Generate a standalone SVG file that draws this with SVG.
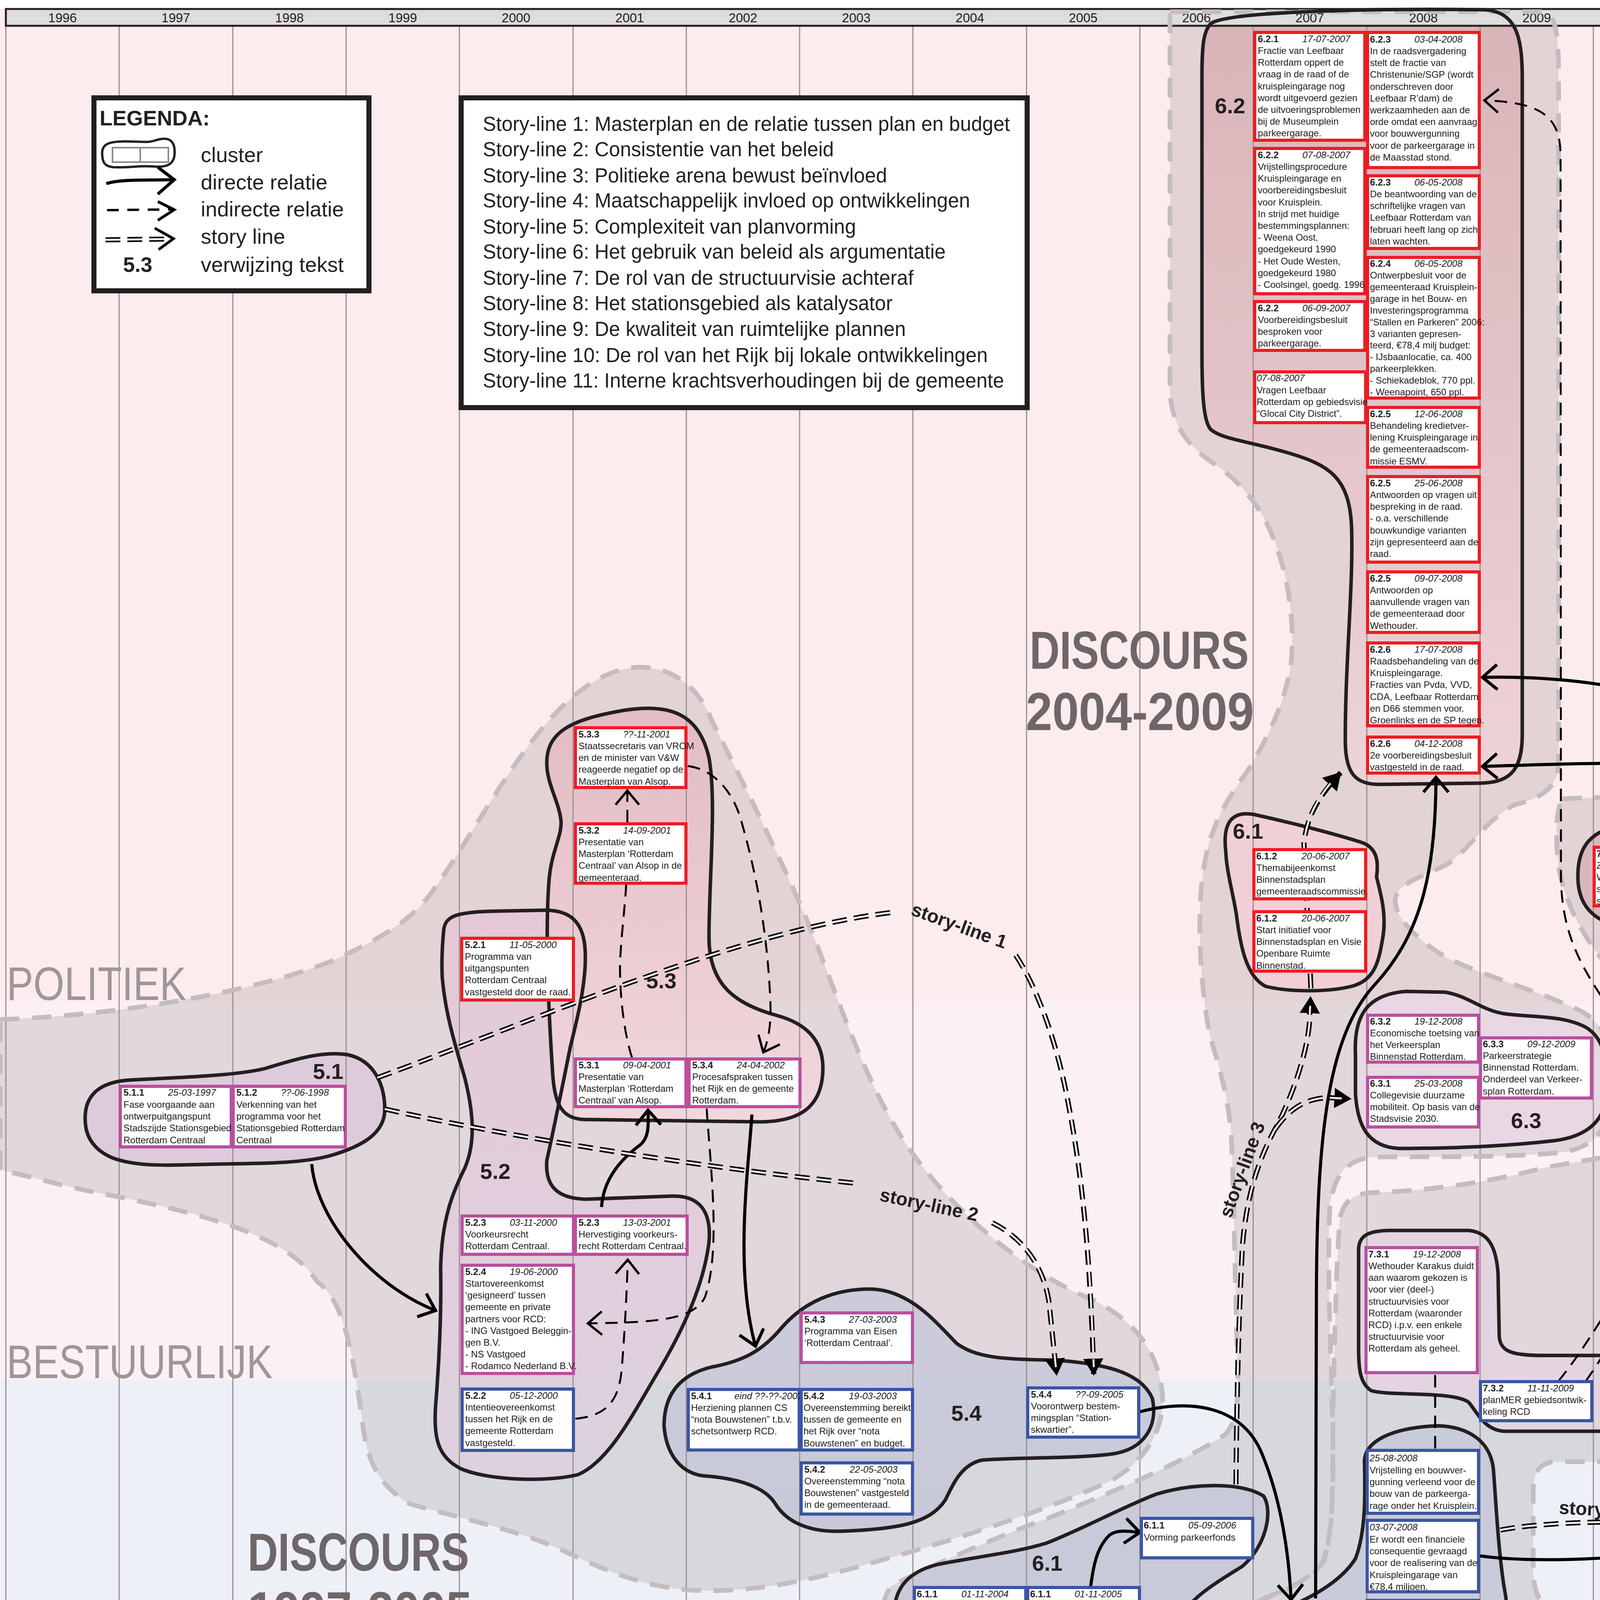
<svg xmlns="http://www.w3.org/2000/svg" xmlns:xlink="http://www.w3.org/1999/xlink" width="5229" height="5234" viewBox="0 0 5229 5234">
<style>
.t{font-family:"Liberation Sans",Arial,sans-serif;font-size:24px;fill:#231f20}
.id{font-weight:bold}
.dt{font-style:italic}
.nd rect{fill:#fff;stroke-width:8}
.r rect{stroke:#ed1c24}
.m rect{stroke:#b94f9e}
.b rect{stroke:#3a55a4}
.c rect{stroke:#6ccbe0}
.ol{fill:none;stroke:#231f20;stroke-width:9}
.dc{fill:#7d7278;fill-opacity:.2;stroke:none}
.dco{fill:none;stroke:#c4bdc0;stroke-width:12;stroke-dasharray:50 32}
.d{fill:none;stroke:#000;stroke-width:8}
.i{fill:none;stroke:#000;stroke-width:5;stroke-dasharray:32 20}
.s1{fill:none;stroke:#000;stroke-width:13;stroke-dasharray:38 18}
.s2{fill:none;stroke:#f4eef2;stroke-width:5;stroke-dasharray:38 18}
.cn{font-family:"Liberation Sans",Arial,sans-serif;font-weight:bold;font-size:56px;fill:#231f20}
.sl{font-family:"Liberation Sans",Arial,sans-serif;font-weight:bold;font-size:48px;fill:#231f20}
.dl{font-family:"Liberation Sans",Arial,sans-serif;font-weight:bold;font-size:138px;fill:#6e6668}
.bl{font-family:"Liberation Sans",Arial,sans-serif;font-size:120px;fill:#9e9698}
.yr{font-family:"Liberation Sans",Arial,sans-serif;font-size:33px;fill:#231f20;text-anchor:middle}
.lg{font-family:"Liberation Sans",Arial,sans-serif;font-size:54px;fill:#231f20}
.st{font-family:"Liberation Sans",Arial,sans-serif;font-size:51px;fill:#231f20}
.col{stroke:#9b8f93;stroke-width:3}
</style>
<defs>
<marker id="ch" viewBox="0 0 60 80" refX="48" refY="40" markerWidth="60" markerHeight="80" markerUnits="userSpaceOnUse" orient="auto"><path d="M10,8 L48,40 L10,72" fill="none" stroke="#000" stroke-width="8"/></marker>
<marker id="chi" viewBox="0 0 60 80" refX="48" refY="40" markerWidth="60" markerHeight="80" markerUnits="userSpaceOnUse" orient="auto"><path d="M12,10 L48,40 L12,70" fill="none" stroke="#000" stroke-width="6"/></marker>
<marker id="tri" viewBox="0 0 44 56" refX="42" refY="28" markerWidth="44" markerHeight="56" markerUnits="userSpaceOnUse" orient="auto"><path d="M0,2 L44,28 L0,54 Z" fill="#000"/></marker>
<linearGradient id="gR" x1="0" y1="0" x2="0" y2="1"><stop offset="0" stop-color="#d6adb2"/><stop offset="1" stop-color="#f0d3d7"/></linearGradient>
<linearGradient id="g53" x1="0" y1="0" x2="0" y2="1"><stop offset="0" stop-color="#e2b8bf"/><stop offset="1" stop-color="#f4d8de"/></linearGradient>
<linearGradient id="gL" x1="0" y1="0" x2="0" y2="1"><stop offset="0" stop-color="#e6c6d6"/><stop offset="1" stop-color="#ddd0e0"/></linearGradient>
<linearGradient id="gB" x1="0" y1="0" x2="0" y2="1"><stop offset="0" stop-color="#c9c9da"/><stop offset="1" stop-color="#c3c6d7"/></linearGradient>
<path id="c51" d="M219 2880 C210 2800 260 2770 330 2765 C450 2758 600 2755 680 2735 C760 2710 830 2690 890 2700 C960 2715 985 2780 985 2840 C985 2900 930 2935 840 2960 C760 2980 650 2978 560 2980 C450 2982 360 2990 290 2965 C240 2945 222 2910 219 2880 Z"/>
<path id="c52" d="M1136 2380 C1140 2345 1170 2336 1250 2333 L1400 2330 C1460 2332 1490 2360 1497 2420 C1505 2500 1480 2600 1460 2680 C1440 2780 1420 2880 1400 2970 C1395 3030 1420 3068 1500 3070 L1720 3062 C1790 3060 1822 3100 1815 3180 C1800 3300 1740 3420 1680 3520 C1620 3620 1560 3740 1480 3775 C1400 3795 1250 3790 1180 3760 C1120 3730 1110 3680 1115 3600 C1125 3480 1130 3350 1128 3250 C1130 3120 1160 3050 1190 2990 C1220 2920 1210 2840 1190 2760 C1170 2690 1140 2600 1132 2500 C1130 2450 1133 2410 1136 2380 Z"/>
<path id="c53" d="M1400 1960 C1395 1870 1470 1840 1600 1818 C1720 1800 1790 1830 1815 1940 C1835 2050 1815 2250 1815 2400 C1815 2520 1880 2570 1990 2600 C2080 2625 2115 2680 2105 2760 C2095 2840 2040 2870 1950 2872 L1500 2866 C1440 2866 1420 2830 1415 2750 C1405 2600 1395 2400 1405 2260 C1410 2180 1440 2140 1436 2100 C1430 2050 1402 2010 1400 1960 Z"/>
<path id="c54" d="M1700 3650 C1700 3570 1740 3520 1820 3500 C1900 3485 1950 3460 2000 3400 C2060 3330 2140 3300 2226 3300 C2330 3300 2400 3390 2450 3440 C2500 3475 2560 3480 2700 3482 C2820 3490 2920 3510 2950 3580 C2965 3650 2930 3710 2848 3722 C2750 3735 2600 3730 2513 3738 C2460 3750 2440 3800 2420 3840 C2380 3900 2300 3915 2150 3920 C2060 3922 2010 3890 1985 3850 C1960 3810 1900 3785 1800 3778 C1740 3770 1705 3720 1700 3650 Z"/>
<path id="c61b" d="M2288 4150 C2285 4070 2320 4025 2400 4005 C2500 3985 2600 3975 2680 3950 C2780 3910 2870 3860 2960 3825 C3060 3795 3180 3795 3235 3830 C3260 3870 3240 3960 3180 4010 C3100 4060 3030 4100 3010 4170 C2995 4250 2970 4320 2900 4345 C2800 4370 2650 4370 2530 4365 C2420 4355 2340 4310 2305 4250 C2290 4210 2288 4180 2288 4150 Z"/>
<path id="c61r" d="M3138 2180 C3130 2110 3150 2075 3210 2085 C3300 2105 3420 2135 3490 2158 C3530 2175 3528 2215 3524 2245 C3535 2290 3550 2340 3540 2400 C3530 2460 3520 2510 3460 2525 C3400 2540 3300 2540 3240 2525 C3190 2500 3175 2420 3165 2340 C3155 2280 3140 2230 3138 2180 Z"/>
<path id="c62" d="M3100 60 C3150 25 3600 22 3800 25 C3880 30 3897 90 3897 200 L3897 1880 C3897 1980 3860 2005 3780 2005 L3530 2008 C3470 2008 3445 1980 3444 1900 C3443 1700 3465 1500 3460 1350 C3455 1220 3400 1190 3300 1160 C3200 1130 3130 1125 3100 1100 C3080 1080 3077 1000 3077 900 L3077 200 C3077 120 3080 80 3100 60 Z"/>
<path id="c63" d="M3470 2700 C3465 2600 3500 2545 3600 2538 L3700 2540 C3760 2550 3790 2585 3850 2595 C3920 2605 4000 2598 4060 2630 C4110 2660 4115 2720 4112 2800 C4110 2870 4060 2910 3980 2920 C3850 2935 3700 2940 3580 2940 C3500 2935 3475 2880 3470 2800 Z"/>
<path id="c64" d="M3456 4720 C3462 4660 3500 4615 3560 4602 C3700 4585 3900 4570 4050 4561 C4120 4560 4160 4600 4165 4680 L4165 5000 C4160 5100 4140 5170 4120 5240 L3760 5240 C3740 5150 3720 5090 3660 5050 C3600 5025 3520 5020 3480 4985 C3455 4950 3450 4850 3456 4720 Z"/>
<path id="c71" d="M3493 3740 C3495 3690 3560 3655 3680 3650 C3760 3652 3815 3690 3823 3760 C3830 3850 3835 3960 3850 4060 C3868 4150 3860 4220 3790 4255 C3700 4285 3580 4280 3520 4315 C3450 4360 3380 4410 3280 4419 C3190 4420 3150 4380 3138 4300 C3130 4220 3150 4170 3220 4145 C3300 4115 3420 4070 3470 3990 C3497 3920 3495 3820 3493 3740 Z"/>
<path id="c72" d="M3466 4400 C3462 4330 3500 4295 3580 4292 C3700 4288 3900 4285 4082 4276 C4200 4272 4320 4265 4370 4285 C4400 4310 4398 4380 4395 4454 C4392 4500 4360 4510 4300 4510 C4150 4512 3900 4520 3700 4528 C3580 4530 3520 4525 3480 4490 C3468 4470 3467 4440 3466 4400 Z"/>
<path id="c73t" d="M4040 2260 C4035 2180 4060 2130 4150 2112 C4250 2090 4400 2070 4521 2090 C4600 2102 4680 2100 4700 2150 C4715 2200 4715 2250 4728 2290 C4750 2350 4750 2450 4720 2505 C4680 2545 4600 2552 4520 2552 C4420 2550 4350 2530 4320 2460 C4290 2410 4250 2385 4160 2375 C4080 2360 4045 2320 4040 2260 Z"/>
<path id="c73b" d="M3478 3200 C3478 3165 3500 3150 3560 3150 L3760 3150 C3810 3155 3830 3190 3835 3260 L3838 3420 C3840 3460 3870 3470 3950 3470 L4600 3470 C4650 3472 4675 3500 4675 3560 C4675 3630 4650 3662 4600 3664 L3850 3664 C3800 3660 3785 3620 3760 3590 C3720 3560 3560 3575 3510 3560 C3480 3540 3478 3500 3478 3450 Z"/>
<path id="dA" d="M0 2610 C300 2600 650 2540 850 2460 C960 2410 1050 2360 1100 2291 C1250 2090 1390 1760 1600 1712 C1710 1690 1790 1760 1821 1842 C1900 2000 1990 2180 2050 2319 C2130 2500 2200 2750 2320 2930 C2450 3120 2650 3270 2801 3329 C2900 3380 2960 3450 2975 3560 C2985 3660 2930 3740 2848 3788 C2700 3860 2450 3940 2274 3989 C2100 4040 1950 4075 1800 4072 C1650 4068 1550 4020 1420 3960 C1300 3910 1150 3880 1050 3850 C960 3800 935 3720 927 3632 C900 3450 880 3330 812 3281 C760 3200 650 3150 487 3106 C350 3070 250 3055 200 3043 C120 3025 50 3005 0 2995 Z"/>
<path id="dB" d="M2995 30 L3955 30 C3985 40 3990 100 3990 200 L3990 1950 C3990 2020 3940 2045 3878 2060 C3800 2100 3760 2180 3700 2215 C3640 2245 3580 2260 3572 2300 C3568 2345 3620 2400 3700 2450 C3800 2500 3950 2540 4050 2590 C4120 2630 4135 2700 4130 2790 C4125 2880 4090 2935 4000 2950 C3850 2965 3650 2960 3515 2962 C3450 2970 3420 3000 3405 3080 C3395 3250 3410 3500 3412 3684 C3414 3800 3412 3920 3390 3994 C3360 4050 3250 4090 3150 4125 C3080 4150 3060 4200 3050 4260 C3060 4360 3150 4450 3300 4530 C3400 4575 3500 4585 3600 4580 C3800 4570 4000 4555 4130 4560 C4200 4570 4225 4620 4225 4700 L4220 5000 C4215 5100 4200 5170 4190 5234 L3757 5234 C3740 5170 3720 5120 3650 5085 C3550 5050 3480 5030 3440 4980 C3405 4930 3400 4870 3400 4828 C3380 4760 3250 4700 3100 4620 C2980 4560 2900 4480 2800 4465 C2600 4470 2420 4450 2320 4380 C2260 4330 2250 4260 2250 4200 C2255 4120 2265 4080 2282 4060 C2400 4000 2561 3931 2700 3880 C2848 3817 3000 3760 3136 3673 C3165 3640 3171 3600 3168 3500 C3162 3300 3158 3000 3151 2892 C3140 2780 3110 2700 3095 2640 C3070 2500 3060 2300 3090 2180 C3110 2090 3160 2020 3192 1976 C3240 1900 3290 1800 3305 1700 C3315 1600 3300 1480 3262 1383 C3230 1300 3180 1240 3120 1195 C3050 1150 3000 1100 2995 1000 Z"/>
<path id="dC" d="M4000 2045 C4200 2035 4500 2035 4700 2050 C4760 2080 4780 2200 4774 2299 C4770 2400 4765 2480 4750 2547 C4720 2650 4700 2720 4684 2796 C4650 2900 4615 2980 4603 3045 C4585 3120 4570 3180 4578 3211 C4590 3270 4650 3320 4684 3350 C4730 3400 4740 3500 4735 3620 C4730 3700 4690 3735 4600 3742 L3980 3742 C3940 3745 3925 3770 3925 3820 L3925 4030 C3930 4100 3960 4135 4030 4155 C4120 4175 4260 4195 4395 4224 C4435 4240 4445 4290 4445 4360 L4445 4470 C4440 4515 4410 4530 4350 4532 C4100 4540 3850 4548 3655 4551 C3520 4553 3450 4530 3380 4500 C3300 4470 3200 4470 3130 4445 C3070 4410 3055 4320 3060 4250 C3070 4180 3100 4160 3189 4109 C3270 4080 3350 4050 3385 4000 C3410 3950 3412 3850 3412 3684 C3414 3500 3420 3250 3430 3120 C3440 3070 3470 3055 3515 3053 C3650 3048 3800 3030 3950 2990 C4100 2962 4250 2945 4330 2900 C4380 2860 4385 2800 4360 2740 C4320 2660 4230 2590 4150 2510 C4070 2430 4010 2330 3990 2220 C3983 2150 3980 2080 4000 2045 Z"/>
</defs>

<g id="background">
<rect x="0" y="0" width="5229" height="5234" fill="#ffffff"/>
<rect x="0" y="23" width="5229" height="2543" fill="#fdeced"/>
<rect x="0" y="2566" width="5229" height="966" fill="#faf0f6"/>
<rect x="0" y="3532" width="5229" height="995" fill="#eef0f8"/>
<rect x="0" y="4527" width="5229" height="707" fill="#eef7fa"/>
<text class="bl" x="17" y="2560" textLength="460" lengthAdjust="spacingAndGlyphs">POLITIEK</text>
<text class="bl" x="17" y="3528" textLength="681" lengthAdjust="spacingAndGlyphs">BESTUURLIJK</text>
<text class="bl" x="8" y="4525" textLength="559" lengthAdjust="spacingAndGlyphs">JURIDISCH</text>
<text class="bl" x="17" y="5225" textLength="984" lengthAdjust="spacingAndGlyphs">MAATSCHAPPELIJK</text>
</g>

<g id="discourse-fills">
<use xlink:href="#dA" class="dc"/>
<use xlink:href="#dB" class="dc"/>
<use xlink:href="#dC" class="dc"/>
</g>

<g id="cluster-fills" fill-opacity="0.82">
<use xlink:href="#c51" fill="#dcc8da"/>
<use xlink:href="#c52" fill="url(#gL)"/>
<use xlink:href="#c53" fill="url(#g53)"/>
<use xlink:href="#c54" fill="url(#gB)"/>
<use xlink:href="#c61b" fill="#c4c7d8"/>
<use xlink:href="#c61r" fill="#f3cfd3"/>
<use xlink:href="#c62" fill="url(#gR)"/>
<use xlink:href="#c63" fill="#ead7e4"/>
<use xlink:href="#c64" fill="#c5d5d9"/>
<use xlink:href="#c71" fill="#c5c8d9"/>
<use xlink:href="#c72" fill="#c1c4d6"/>
<use xlink:href="#c73t" fill="#d8b1b6"/>
<use xlink:href="#c73b" fill="#e4d3e1"/>
</g>

<g id="columns">
<line class="col" x1="15" y1="66" x2="15" y2="5234"/>
<line class="col" x1="305" y1="66" x2="305" y2="5234"/>
<line class="col" x1="596" y1="66" x2="596" y2="5234"/>
<line class="col" x1="886" y1="66" x2="886" y2="5234"/>
<line class="col" x1="1176" y1="66" x2="1176" y2="5234"/>
<line class="col" x1="1467" y1="66" x2="1467" y2="5234"/>
<line class="col" x1="1757" y1="66" x2="1757" y2="5234"/>
<line class="col" x1="2047" y1="66" x2="2047" y2="5234"/>
<line class="col" x1="2337" y1="66" x2="2337" y2="5234"/>
<line class="col" x1="2628" y1="66" x2="2628" y2="5234"/>
<line class="col" x1="2918" y1="66" x2="2918" y2="5234"/>
<line class="col" x1="3208" y1="66" x2="3208" y2="5234"/>
<line class="col" x1="3499" y1="66" x2="3499" y2="5234"/>
<line class="col" x1="3789" y1="66" x2="3789" y2="5234"/>
<line class="col" x1="4079" y1="66" x2="4079" y2="5234"/>
<line class="col" x1="4369" y1="66" x2="4369" y2="5234"/>
<line class="col" x1="4660" y1="66" x2="4660" y2="5234"/>
<line class="col" x1="4950" y1="66" x2="4950" y2="5234"/>
</g>

<g id="timeline">
<rect x="15" y="23" width="5230" height="43" fill="#dedcdc" stroke="#231f20" stroke-width="5"/>
<text class="yr" x="160" y="57">1996</text><text class="yr" x="450" y="57">1997</text><text class="yr" x="741" y="57">1998</text><text class="yr" x="1031" y="57">1999</text><text class="yr" x="1321" y="57">2000</text><text class="yr" x="1612" y="57">2001</text><text class="yr" x="1902" y="57">2002</text><text class="yr" x="2192" y="57">2003</text><text class="yr" x="2483" y="57">2004</text><text class="yr" x="2773" y="57">2005</text><text class="yr" x="3063" y="57">2006</text><text class="yr" x="3353" y="57">2007</text><text class="yr" x="3644" y="57">2008</text><text class="yr" x="3934" y="57">2009</text><text class="yr" x="4224" y="57">2010</text><text class="yr" x="4515" y="57">2011</text><text class="yr" x="4805" y="57">2012</text><text class="yr" x="5095" y="57">2013</text>
<text x="5075" y="250" font-family="Liberation Serif, serif" font-size="1080" fill="#a4999c" fill-opacity="0.9" text-anchor="middle">1</text>
</g>

<g id="discourse-outlines">
<use xlink:href="#dA" class="dco"/>
<use xlink:href="#dB" class="dco"/>
<use xlink:href="#dC" class="dco"/>
</g>

<g id="cluster-outlines">
<use xlink:href="#c51" class="ol"/>
<use xlink:href="#c52" class="ol"/>
<use xlink:href="#c53" class="ol"/>
<use xlink:href="#c54" class="ol"/>
<use xlink:href="#c61b" class="ol"/>
<use xlink:href="#c61r" class="ol"/>
<use xlink:href="#c62" class="ol"/>
<use xlink:href="#c63" class="ol"/>
<use xlink:href="#c64" class="ol"/>
<use xlink:href="#c71" class="ol"/>
<use xlink:href="#c72" class="ol"/>
<use xlink:href="#c73t" class="ol"/>
<use xlink:href="#c73b" class="ol"/>
</g>

<g id="labels">
<text class="dl" x="2636" y="1712" textLength="561" lengthAdjust="spacingAndGlyphs">DISCOURS</text>
<text class="dl" x="2626" y="1869" textLength="584" lengthAdjust="spacingAndGlyphs">2004-2009</text>
<text class="dl" x="634" y="4021" textLength="567" lengthAdjust="spacingAndGlyphs">DISCOURS</text>
<text class="dl" x="634" y="4171" textLength="574" lengthAdjust="spacingAndGlyphs">1997-2005</text>
<text class="dl" x="4612" y="4228" textLength="560" lengthAdjust="spacingAndGlyphs">DISCOURS</text>
<text class="dl" x="4599" y="4378" textLength="581" lengthAdjust="spacingAndGlyphs">2007-2011</text>
<text class="cn" x="801" y="2762">5.1</text>
<text class="cn" x="1229" y="3018">5.2</text>
<text class="cn" x="1654" y="2530">5.3</text>
<text class="cn" x="2435" y="3637">5.4</text>
<text class="cn" x="2642" y="4021">6.1</text>
<text class="cn" x="3156" y="2147">6.1</text>
<text class="cn" x="3110" y="290">6.2</text>
<text class="cn" x="3868" y="2888">6.3</text>
<text class="cn" x="3652" y="4650">6.4</text>
<text class="cn" x="3216" y="4396">7.1</text>
<text class="cn" x="3835" y="4468">7.2</text>
<text class="cn" x="4378" y="2135">7.3</text>
<text class="cn" x="4171" y="3612">7.3</text>
</g>

<g id="connectors">
<path class="d" d="M798 2980 C810 3120 950 3290 1115 3355" marker-end="url(#ch)"/>
<path class="d" d="M1540 3090 C1545 3010 1600 2960 1640 2930 C1662 2910 1660 2880 1659 2842" marker-end="url(#ch)"/>
<path class="d" d="M1925 2853 C1915 3000 1880 3250 1934 3446" marker-end="url(#ch)"/>
<path class="d" d="M2918 3614 C3050 3580 3180 3600 3230 3720 C3280 3840 3300 3980 3305 4095" marker-end="url(#ch)"/>
<path class="d" d="M3368 4092 L3370 3300 C3372 2900 3400 2650 3520 2520 C3630 2400 3676 2250 3676 1990" marker-end="url(#ch)"/>
<path class="d" d="M4546 2552 C4535 2800 4525 3100 4560 3300 C4585 3420 4605 3480 4605 3532" marker-end="url(#ch)"/>
<path class="d" d="M3788 3983 C3950 4005 4250 3990 4500 3937 C4800 3870 4990 3650 4990 3350 C4990 3000 4960 2650 4888 2299 C4820 2000 4400 1720 3795 1734" marker-end="url(#ch)"/>
<path class="d" d="M3788 4120 C4000 4118 4300 4125 4500 4115 C4900 4090 5133 3700 5133 3200 C5133 2800 5050 2450 4848 2158 C4650 1920 4200 1950 3795 1962" marker-end="url(#ch)"/>
<path class="d" d="M3788 4373 C3880 4330 3910 4260 3900 4200 C3890 4170 3860 4163 3803 4162" marker-end="url(#ch)"/>
<path class="d" d="M2540 4292 C2560 4340 2650 4360 2700 4345 C2725 4335 2730 4310 2730 4292" marker-end="url(#ch)"/>
<path class="d" d="M2792 4062 C2800 4000 2810 3960 2840 3930 C2860 3915 2890 3920 2918 3923" marker-end="url(#ch)"/>
<path class="i" d="M1618 2708 C1590 2620 1585 2500 1588 2450 C1592 2380 1600 2320 1603 2265"/>
<path class="i" d="M1606 2105 L1606 2024" marker-end="url(#chi)"/>
<path class="i" d="M1761 1961 C1830 1970 1880 2030 1900 2110 C1940 2250 1965 2400 1972 2560 C1975 2630 1965 2670 1954 2694" marker-end="url(#chi)"/>
<path class="i" d="M1809 2838 C1820 3000 1845 3200 1805 3320 C1775 3385 1650 3385 1505 3388" marker-end="url(#chi)"/>
<path class="i" d="M1473 3632 C1540 3625 1585 3600 1592 3500 C1600 3400 1605 3300 1607 3225" marker-end="url(#chi)"/>
<path class="i" d="M4078 4324 L4029 4322 C3980 4270 3950 4200 3877 4184 C3850 4175 3830 4168 3810 4165"/>
<path class="i" d="M3674 3520 L3674 3710"/>
<path class="i" d="M4060 3535 C4120 3450 4146 3400 4160 3330 C4190 3200 4215 3000 4213 2860 C4210 2720 4150 2640 4097 2547 C4040 2460 3999 2380 3996 2250 L3995 400 C3995 300 3950 262 3800 257" marker-end="url(#chi)"/>
<path class="i" d="M3990 3535 C4060 3450 4113 3350 4236 3169 C4300 3080 4358 3003 4431 2879 C4445 2830 4440 2796 4399 2713 C4340 2610 4301 2506 4270 2430 C4262 2400 4260 2360 4260 2330" marker-end="url(#chi)"/>
<path class="s1" d="M966 2759 C1400 2600 1900 2380 2290 2335"/>
<path class="s2" d="M966 2759 C1400 2600 1900 2380 2290 2335"/>
<path class="s1" d="M2600 2445 C2650 2520 2700 2650 2730 2800 C2770 3000 2790 3200 2800 3520" marker-end="url(#tri)"/>
<path class="s2" d="M2600 2445 C2650 2520 2700 2650 2730 2800 C2770 3000 2790 3200 2800 3500"/>
<path class="s1" d="M985 2839 C1300 2910 1800 2990 2200 3030"/>
<path class="s2" d="M985 2839 C1300 2910 1800 2990 2200 3030"/>
<path class="s1" d="M2540 3130 C2620 3170 2670 3240 2685 3330 L2705 3520" marker-end="url(#tri)"/>
<path class="s2" d="M2540 3130 C2620 3170 2670 3240 2685 3330 L2703 3500"/>
<path class="s1" d="M3164 3800 C3166 3600 3170 3400 3180 3200 C3190 3050 3230 2950 3270 2880 C3310 2800 3345 2700 3352 2620 L3355 2552" marker-end="url(#tri)"/>
<path class="s2" d="M3164 3800 C3166 3600 3170 3400 3180 3200 C3190 3050 3230 2950 3270 2880 C3310 2800 3345 2700 3352 2620 L3354 2575"/>
<path class="s1" d="M3265 2890 C3300 2840 3340 2812 3400 2810 L3458 2813" marker-end="url(#tri)"/>
<path class="s2" d="M3265 2890 C3300 2840 3340 2812 3400 2810 L3435 2812"/>
<path class="s1" d="M3356 2530 L3338 2160 C3345 2090 3375 2040 3432 1978" marker-end="url(#tri)"/>
<path class="s2" d="M3356 2530 L3338 2160 C3345 2090 3375 2040 3415 1995"/>
<path class="s1" d="M2862 4348 C2870 4380 2880 4400 2895 4420"/>
<path class="s2" d="M2862 4348 C2870 4380 2880 4400 2895 4420"/>
<path class="s1" d="M3175 4580 C3280 4610 3380 4640 3468 4690" marker-end="url(#tri)"/>
<path class="s2" d="M3175 4580 C3280 4610 3380 4640 3450 4680"/>
<path class="s1" d="M3841 3917 C3950 3895 4200 3890 4350 3903 C4420 3890 4450 3800 4462 3690" marker-end="url(#tri)"/>
<path class="s2" d="M3841 3917 C3950 3895 4200 3890 4350 3903 C4420 3890 4450 3800 4460 3712"/>
<text class="sl" transform="translate(2450,2385) rotate(20)" text-anchor="middle">story-line 1</text>
<text class="sl" transform="translate(2375,3100) rotate(12)" text-anchor="middle">story-line 2</text>
<text class="sl" transform="translate(3195,3000) rotate(-70)" text-anchor="middle">story-line 3</text>
<text class="sl" transform="translate(3035,4515) rotate(24)" text-anchor="middle">story-line 4</text>
<text class="sl" transform="translate(4118,3882) rotate(3)" text-anchor="middle" font-size="52">story-line 7</text>
</g>

<g id="legend">
<rect x="240.5" y="250.5" width="704" height="494" fill="#fff" stroke="#231f20" stroke-width="13"/>
<text class="lg" x="255" y="321" font-weight="bold" font-size="52">LEGENDA:</text>
<path d="M262 400 C258 370 275 362 320 362 C360 362 380 366 395 360 C420 352 445 350 447 385 C449 420 430 430 390 426 C360 423 330 430 290 428 C268 426 263 415 262 400 Z" fill="none" stroke="#231f20" stroke-width="6"/>
<rect x="288" y="378" width="71" height="37" fill="none" stroke="#8a8a8a" stroke-width="4"/>
<rect x="359" y="378" width="72" height="37" fill="none" stroke="#8a8a8a" stroke-width="4"/>
<path d="M272 470 C310 458 370 462 440 460" fill="none" stroke="#000" stroke-width="8"/>
<path d="M404 428 L446 460 L404 497" fill="none" stroke="#000" stroke-width="8"/>
<path d="M274 538 L440 536" fill="none" stroke="#000" stroke-width="6" stroke-dasharray="30 22"/>
<path d="M404 516 L446 537 L404 564" fill="none" stroke="#000" stroke-width="7"/>
<path d="M270 614 L430 612" class="s1" stroke-dasharray="30 16"/>
<path d="M270 614 L430 612" class="s2" stroke-dasharray="30 16"/>
<path d="M396 584 L444 611 L406 639" fill="none" stroke="#000" stroke-width="7"/>
<text class="lg" x="514" y="415">cluster</text>
<text class="lg" x="514" y="485">directe relatie</text>
<text class="lg" x="514" y="554">indirecte relatie</text>
<text class="lg" x="514" y="624">story line</text>
<text class="lg" x="315" y="696" font-weight="bold">5.3</text>
<text class="lg" x="514" y="696">verwijzing tekst</text>
</g>

<g id="storylines-box">
<rect x="1180.5" y="250.5" width="1449" height="793" fill="#fff" stroke="#231f20" stroke-width="13"/>
<text class="st" x="1236" y="335">Story-line 1: Masterplan en de relatie tussen plan en budget</text>
<text class="st" x="1236" y="400">Story-line 2: Consistentie van het beleid</text>
<text class="st" x="1236" y="467">Story-line 3: Politieke arena bewust beïnvloed</text>
<text class="st" x="1236" y="531">Story-line 4: Maatschappelijk invloed op ontwikkelingen</text>
<text class="st" x="1236" y="598">Story-line 5: Complexiteit van planvorming</text>
<text class="st" x="1236" y="662">Story-line 6: Het gebruik van beleid als argumentatie</text>
<text class="st" x="1236" y="729">Story-line 7: De rol van de structuurvisie achteraf</text>
<text class="st" x="1236" y="794">Story-line 8: Het stationsgebied als katalysator</text>
<text class="st" x="1236" y="860">Story-line 9: De kwaliteit van ruimtelijke plannen</text>
<text class="st" x="1236" y="927">Story-line 10: De rol van het Rijk bij lokale ontwikkelingen</text>
<text class="st" x="1236" y="992">Story-line 11: Interne krachtsverhoudingen bij de gemeente</text>
</g>

<g id="n-6-2-1" class="nd r"><rect x="3212" y="83" width="282" height="276"/><text class="t" x="3220" y="108"><tspan class="id">6.2.1</tspan><tspan class="dt" x="3334">17-07-2007</tspan><tspan x="3220" dy="30">Fractie van Leefbaar</tspan><tspan x="3220" dy="30.2">Rotterdam oppert de</tspan><tspan x="3220" dy="30.2">vraag in de raad of de</tspan><tspan x="3220" dy="30.2">kruispleingarage nog</tspan><tspan x="3220" dy="30.2">wordt uitgevoerd gezien</tspan><tspan x="3220" dy="30.2">de uitvoeringsproblemen</tspan><tspan x="3220" dy="30.2">bij de Museumplein</tspan><tspan x="3220" dy="30.2">parkeergarage.</tspan></text></g>
<g id="n-6-2-2a" class="nd r"><rect x="3212" y="380" width="282" height="372"/><text class="t" x="3220" y="405"><tspan class="id">6.2.2</tspan><tspan class="dt" x="3334">07-08-2007</tspan><tspan x="3220" dy="30">Vrijstellingsprocedure</tspan><tspan x="3220" dy="30.2">Kruispleingarage en</tspan><tspan x="3220" dy="30.2">voorbereidingsbesluit</tspan><tspan x="3220" dy="30.2">voor Kruisplein.</tspan><tspan x="3220" dy="30.2">In strijd met huidige</tspan><tspan x="3220" dy="30.2">bestemmingsplannen:</tspan><tspan x="3220" dy="30.2">- Weena Oost,</tspan><tspan x="3220" dy="30.2">goedgekeurd 1990</tspan><tspan x="3220" dy="30.2">- Het Oude Westen,</tspan><tspan x="3220" dy="30.2">goedgekeurd 1980</tspan><tspan x="3220" dy="30.2">- Coolsingel, goedg. 1996</tspan></text></g>
<g id="n-6-2-2b" class="nd r"><rect x="3212" y="772" width="282" height="125"/><text class="t" x="3220" y="797"><tspan class="id">6.2.2</tspan><tspan class="dt" x="3334">06-09-2007</tspan><tspan x="3220" dy="30">Voorbereidingsbesluit</tspan><tspan x="3220" dy="30.2">besproken voor</tspan><tspan x="3220" dy="30.2">parkeergarage.</tspan></text></g>
<g id="n-07-08-2007" class="nd r"><rect x="3212" y="952" width="284" height="130"/><text class="t" x="3217" y="976"><tspan class="dt">07-08-2007</tspan><tspan x="3217" dy="31">Vragen Leefbaar</tspan><tspan x="3217" dy="30.2">Rotterdam op gebiedsvisie</tspan><tspan x="3217" dy="30.2">“Glocal City District”.</tspan></text></g>
<g id="n-6-2-3a" class="nd r"><rect x="3501" y="83" width="286" height="346"/><text class="t" x="3507" y="109"><tspan class="id">6.2.3</tspan><tspan class="dt" x="3621">03-04-2008</tspan><tspan x="3507" dy="30">In de raadsvergadering</tspan><tspan x="3507" dy="30.2">stelt de fractie van</tspan><tspan x="3507" dy="30.2">Christenunie/SGP (wordt</tspan><tspan x="3507" dy="30.2">onderschreven door</tspan><tspan x="3507" dy="30.2">Leefbaar R’dam) de</tspan><tspan x="3507" dy="30.2">werkzaamheden aan de</tspan><tspan x="3507" dy="30.2">orde omdat een aanvraag</tspan><tspan x="3507" dy="30.2">voor bouwvergunning</tspan><tspan x="3507" dy="30.2">voor de parkeergarage in</tspan><tspan x="3507" dy="30.2">de Maasstad stond.</tspan></text></g>
<g id="n-6-2-3b" class="nd r"><rect x="3501" y="450" width="286" height="186"/><text class="t" x="3507" y="475"><tspan class="id">6.2.3</tspan><tspan class="dt" x="3621">06-05-2008</tspan><tspan x="3507" dy="30">De beantwoording van de</tspan><tspan x="3507" dy="30.2">schriftelijke vragen van</tspan><tspan x="3507" dy="30.2">Leefbaar Rotterdam van</tspan><tspan x="3507" dy="30.2">februari heeft lang op zich</tspan><tspan x="3507" dy="30.2">laten wachten.</tspan></text></g>
<g id="n-6-2-4" class="nd r"><rect x="3501" y="659" width="286" height="360"/><text class="t" x="3507" y="683"><tspan class="id">6.2.4</tspan><tspan class="dt" x="3621">06-05-2008</tspan><tspan x="3507" dy="30">Ontwerpbesluit voor de</tspan><tspan x="3507" dy="29.9">gemeenteraad Kruisplein-</tspan><tspan x="3507" dy="29.9">garage in het Bouw- en</tspan><tspan x="3507" dy="29.9">Investeringsprogramma</tspan><tspan x="3507" dy="29.9">“Stallen en Parkeren” 2006:</tspan><tspan x="3507" dy="29.9">3 varianten gepresen-</tspan><tspan x="3507" dy="29.9">teerd, €78,4 milj budget:</tspan><tspan x="3507" dy="29.9">- IJsbaanlocatie, ca. 400</tspan><tspan x="3507" dy="29.9">parkeerplekken.</tspan><tspan x="3507" dy="29.9">- Schiekadeblok, 770 ppl.</tspan><tspan x="3507" dy="29.9">- Weenapoint, 650 ppl.</tspan></text></g>
<g id="n-6-2-5a" class="nd r"><rect x="3501" y="1043" width="286" height="153"/><text class="t" x="3507" y="1068"><tspan class="id">6.2.5</tspan><tspan class="dt" x="3621">12-06-2008</tspan><tspan x="3507" dy="30">Behandeling kredietver-</tspan><tspan x="3507" dy="30.2">lening Kruispleingarage in</tspan><tspan x="3507" dy="30.2">de gemeenteraadscom-</tspan><tspan x="3507" dy="30.2">missie ESMV.</tspan></text></g>
<g id="n-6-2-5b" class="nd r"><rect x="3501" y="1220" width="286" height="219"/><text class="t" x="3507" y="1245"><tspan class="id">6.2.5</tspan><tspan class="dt" x="3621">25-06-2008</tspan><tspan x="3507" dy="30">Antwoorden op vragen uit</tspan><tspan x="3507" dy="30.2">bespreking in de raad.</tspan><tspan x="3507" dy="30.2">- o.a. verschillende</tspan><tspan x="3507" dy="30.2">bouwkundige varianten</tspan><tspan x="3507" dy="30.2">zijn gepresenteerd aan de</tspan><tspan x="3507" dy="30.2">raad.</tspan></text></g>
<g id="n-6-2-5c" class="nd r"><rect x="3501" y="1464" width="286" height="155"/><text class="t" x="3507" y="1489"><tspan class="id">6.2.5</tspan><tspan class="dt" x="3621">09-07-2008</tspan><tspan x="3507" dy="30">Antwoorden op</tspan><tspan x="3507" dy="30.2">aanvullende vragen van</tspan><tspan x="3507" dy="30.2">de gemeenteraad door</tspan><tspan x="3507" dy="30.2">Wethouder.</tspan></text></g>
<g id="n-6-2-6a" class="nd r"><rect x="3501" y="1646" width="286" height="212"/><text class="t" x="3507" y="1671"><tspan class="id">6.2.6</tspan><tspan class="dt" x="3621">17-07-2008</tspan><tspan x="3507" dy="30">Raadsbehandeling van de</tspan><tspan x="3507" dy="30.2">Kruispleingarage.</tspan><tspan x="3507" dy="30.2">Fracties van Pvda, VVD,</tspan><tspan x="3507" dy="30.2">CDA, Leefbaar Rotterdam</tspan><tspan x="3507" dy="30.2">en D66 stemmen voor.</tspan><tspan x="3507" dy="30.2">Groenlinks en de SP tegen.</tspan></text></g>
<g id="n-6-2-6b" class="nd r"><rect x="3501" y="1887" width="286" height="92"/><text class="t" x="3507" y="1912"><tspan class="id">6.2.6</tspan><tspan class="dt" x="3621">04-12-2008</tspan><tspan x="3507" dy="30">2e voorbereidingsbesluit</tspan><tspan x="3507" dy="30.2">vastgesteld in de raad.</tspan></text></g>
<g id="n-5-3-3" class="nd r"><rect x="1473" y="1863" width="283" height="153"/><text class="t" x="1481" y="1888"><tspan class="id">5.3.3</tspan><tspan class="dt" x="1595">??-11-2001</tspan><tspan x="1481" dy="30">Staatssecretaris van VROM</tspan><tspan x="1481" dy="30.2">en de minister van V&amp;W</tspan><tspan x="1481" dy="30.2">reageerde negatief op de</tspan><tspan x="1481" dy="30.2">Masterplan van Alsop.</tspan></text></g>
<g id="n-5-3-2" class="nd r"><rect x="1473" y="2109" width="283" height="152"/><text class="t" x="1481" y="2134"><tspan class="id">5.3.2</tspan><tspan class="dt" x="1595">14-09-2001</tspan><tspan x="1481" dy="30">Presentatie van</tspan><tspan x="1481" dy="30.2">Masterplan ‘Rotterdam</tspan><tspan x="1481" dy="30.2">Centraal’ van Alsop in de</tspan><tspan x="1481" dy="30.2">gemeenteraad.</tspan></text></g>
<g id="n-5-2-1" class="nd r"><rect x="1182" y="2402" width="286" height="158"/><text class="t" x="1190" y="2427"><tspan class="id">5.2.1</tspan><tspan class="dt" x="1304">11-05-2000</tspan><tspan x="1190" dy="30">Programma van</tspan><tspan x="1190" dy="30.2">uitgangspunten</tspan><tspan x="1190" dy="30.2">Rotterdam Centraal</tspan><tspan x="1190" dy="30.2">vastgesteld door de raad.</tspan></text></g>
<g id="n-6-1-2a" class="nd r"><rect x="3210" y="2175" width="286" height="126"/><text class="t" x="3216" y="2200"><tspan class="id">6.1.2</tspan><tspan class="dt" x="3332">20-06-2007</tspan><tspan x="3216" dy="30">Themabijeenkomst</tspan><tspan x="3216" dy="30.2">Binnenstadsplan</tspan><tspan x="3216" dy="30.2">gemeenteraadscommissie.</tspan></text></g>
<g id="n-6-1-2b" class="nd r"><rect x="3210" y="2334" width="286" height="152"/><text class="t" x="3216" y="2359"><tspan class="id">6.1.2</tspan><tspan class="dt" x="3332">20-06-2007</tspan><tspan x="3216" dy="30">Start initiatief voor</tspan><tspan x="3216" dy="30.2">Binnenstadsplan en Visie</tspan><tspan x="3216" dy="30.2">Openbare Ruimte</tspan><tspan x="3216" dy="30.2">Binnenstad.</tspan></text></g>
<g id="n-7-3-3a" class="nd r"><rect x="4081" y="2169" width="281" height="150"/><text class="t" x="4087" y="2194"><tspan class="id">7.3.3</tspan><tspan class="dt" x="4200">01-12-2010</tspan><tspan x="4087" dy="30">Zienswijzerapportage:</tspan><tspan x="4087" dy="30.2">Wijzingen op structuurvi-</tspan><tspan x="4087" dy="30.2">sie, plan MER en</tspan><tspan x="4087" dy="30.2">samenvatting MER.</tspan></text></g>
<g id="n-7-3-3b" class="nd r"><rect x="4370" y="2169" width="282" height="184"/><text class="t" x="4376" y="2194"><tspan class="id">7.3.3</tspan><tspan class="dt" x="4490">02-02-2011</tspan><tspan x="4376" dy="30">Verslag van hoorzitting</tspan><tspan x="4376" dy="30.2">structuurvisie RCD door</tspan><tspan x="4376" dy="30.2">commissie voor Fysieke</tspan><tspan x="4376" dy="30.2">infrastructuur en</tspan><tspan x="4376" dy="30.2">Buitenruimte.</tspan></text></g>
<g id="n-7-3-3c" class="nd r"><rect x="4370" y="2377" width="282" height="127"/><text class="t" x="4376" y="2402"><tspan class="id">7.3.3</tspan><tspan class="dt" x="4490">16-02-2011</tspan><tspan x="4376" dy="30">Vragen gesteld aan de</tspan><tspan x="4376" dy="30.2">raad over structuurvisie en</tspan><tspan x="4376" dy="30.2">planMER RCD.</tspan></text></g>

<g id="n-5-1-1" class="nd m"><rect x="308" y="2781" width="284" height="155"/><text class="t" x="316" y="2805"><tspan class="id">5.1.1</tspan><tspan class="dt" x="430">25-03-1997</tspan><tspan x="316" dy="31">Fase voorgaande aan</tspan><tspan x="316" dy="30.2">ontwerpuitgangspunt</tspan><tspan x="316" dy="30.2">Stadszijde Stationsgebied</tspan><tspan x="316" dy="30.2">Rotterdam Centraal</tspan></text></g>
<g id="n-5-1-2" class="nd m"><rect x="597" y="2781" width="287" height="155"/><text class="t" x="605" y="2805"><tspan class="id">5.1.2</tspan><tspan class="dt" x="719">??-06-1998</tspan><tspan x="605" dy="31">Verkenning van het</tspan><tspan x="605" dy="30.2">programma voor het</tspan><tspan x="605" dy="30.2">Stationsgebied Rotterdam</tspan><tspan x="605" dy="30.2">Centraal</tspan></text></g>
<g id="n-5-3-1" class="nd m"><rect x="1473" y="2711" width="283" height="122"/><text class="t" x="1481" y="2735"><tspan class="id">5.3.1</tspan><tspan class="dt" x="1595">09-04-2001</tspan><tspan x="1481" dy="30">Presentatie van</tspan><tspan x="1481" dy="30.2">Masterplan ‘Rotterdam</tspan><tspan x="1481" dy="30.2">Centraal’ van Alsop.</tspan></text></g>
<g id="n-5-3-4" class="nd m"><rect x="1764" y="2711" width="284" height="122"/><text class="t" x="1772" y="2735"><tspan class="id">5.3.4</tspan><tspan class="dt" x="1886">24-04-2002</tspan><tspan x="1772" dy="30">Procesafspraken tussen</tspan><tspan x="1772" dy="30.2">het Rijk en de gemeente</tspan><tspan x="1772" dy="30.2">Rotterdam.</tspan></text></g>
<g id="n-5-2-3a" class="nd m"><rect x="1183" y="3113" width="285" height="98"/><text class="t" x="1191" y="3138"><tspan class="id">5.2.3</tspan><tspan class="dt" x="1305">03-11-2000</tspan><tspan x="1191" dy="30">Voorkeursrecht</tspan><tspan x="1191" dy="30.2">Rotterdam Centraal.</tspan></text></g>
<g id="n-5-2-3b" class="nd m"><rect x="1473" y="3113" width="286" height="98"/><text class="t" x="1481" y="3138"><tspan class="id">5.2.3</tspan><tspan class="dt" x="1595">13-03-2001</tspan><tspan x="1481" dy="30">Hervestiging voorkeurs-</tspan><tspan x="1481" dy="30.2">recht Rotterdam Centraal.</tspan></text></g>
<g id="n-5-2-4" class="nd m"><rect x="1183" y="3239" width="285" height="277"/><text class="t" x="1191" y="3264"><tspan class="id">5.2.4</tspan><tspan class="dt" x="1305">19-06-2000</tspan><tspan x="1191" dy="30">Startovereenkomst</tspan><tspan x="1191" dy="30.2">‘gesigneerd’ tussen</tspan><tspan x="1191" dy="30.2">gemeente en private</tspan><tspan x="1191" dy="30.2">partners voor RCD:</tspan><tspan x="1191" dy="30.2">- ING Vastgoed Beleggin-</tspan><tspan x="1191" dy="30.2">gen B.V.</tspan><tspan x="1191" dy="30.2">- NS Vastgoed</tspan><tspan x="1191" dy="30.2">- Rodamco Nederland B.V.</tspan></text></g>
<g id="n-5-4-3" class="nd m"><rect x="2051" y="3361" width="285" height="127"/><text class="t" x="2059" y="3386"><tspan class="id">5.4.3</tspan><tspan class="dt" x="2173">27-03-2003</tspan><tspan x="2059" dy="30">Programma van Eisen</tspan><tspan x="2059" dy="30.2">‘Rotterdam Centraal’.</tspan></text></g>
<g id="n-6-3-2" class="nd m"><rect x="3501" y="2599" width="284" height="120"/><text class="t" x="3507" y="2623"><tspan class="id">6.3.2</tspan><tspan class="dt" x="3621">19-12-2008</tspan><tspan x="3507" dy="30">Economische toetsing van</tspan><tspan x="3507" dy="30.2">het Verkeersplan</tspan><tspan x="3507" dy="30.2">Binnenstad Rotterdam.</tspan></text></g>
<g id="n-6-3-1" class="nd m"><rect x="3501" y="2758" width="284" height="127"/><text class="t" x="3507" y="2782"><tspan class="id">6.3.1</tspan><tspan class="dt" x="3621">25-03-2008</tspan><tspan x="3507" dy="30">Collegevisie duurzame</tspan><tspan x="3507" dy="30.2">mobiliteit. Op basis van de</tspan><tspan x="3507" dy="30.2">Stadsvisie 2030.</tspan></text></g>
<g id="n-6-3-3" class="nd m"><rect x="3790" y="2657" width="284" height="154"/><text class="t" x="3796" y="2681"><tspan class="id">6.3.3</tspan><tspan class="dt" x="3910">09-12-2009</tspan><tspan x="3796" dy="30">Parkeerstrategie</tspan><tspan x="3796" dy="30.2">Binnenstad Rotterdam.</tspan><tspan x="3796" dy="30.2">Onderdeel van Verkeer-</tspan><tspan x="3796" dy="30.2">splan Rotterdam.</tspan></text></g>
<g id="n-7-3-1" class="nd m"><rect x="3497" y="3194" width="285" height="320"/><text class="t" x="3503" y="3219"><tspan class="id">7.3.1</tspan><tspan class="dt" x="3617">19-12-2008</tspan><tspan x="3503" dy="30">Wethouder Karakus duidt</tspan><tspan x="3503" dy="30.2">aan waarom gekozen is</tspan><tspan x="3503" dy="30.2">voor vier (deel-)</tspan><tspan x="3503" dy="30.2">structuurvisies voor</tspan><tspan x="3503" dy="30.2">Rotterdam (waaronder</tspan><tspan x="3503" dy="30.2">RCD) i.p.v. een enkele</tspan><tspan x="3503" dy="30.2">structuurvisie voor</tspan><tspan x="3503" dy="30.2">Rotterdam als geheel.</tspan></text></g>

<g id="n-5-2-2" class="nd b"><rect x="1183" y="3556" width="285" height="157"/><text class="t" x="1191" y="3581"><tspan class="id">5.2.2</tspan><tspan class="dt" x="1305">05-12-2000</tspan><tspan x="1191" dy="30">Intentieovereenkomst</tspan><tspan x="1191" dy="30.2">tussen het Rijk en de</tspan><tspan x="1191" dy="30.2">gemeente Rotterdam</tspan><tspan x="1191" dy="30.2">vastgesteld.</tspan></text></g>
<g id="n-5-4-1" class="nd b"><rect x="1762" y="3557" width="284" height="155"/><text class="t" x="1769" y="3582"><tspan class="id">5.4.1</tspan><tspan class="dt" x="1880">eind ??-??-2002</tspan><tspan x="1769" dy="30">Herziening plannen CS</tspan><tspan x="1769" dy="30.2">“nota Bouwstenen” t.b.v.</tspan><tspan x="1769" dy="30.2">schetsontwerp RCD.</tspan></text></g>
<g id="n-5-4-2a" class="nd b"><rect x="2051" y="3557" width="285" height="155"/><text class="t" x="2057" y="3582"><tspan class="id">5.4.2</tspan><tspan class="dt" x="2173">19-03-2003</tspan><tspan x="2057" dy="30">Overeenstemming bereikt</tspan><tspan x="2057" dy="30.2">tussen de gemeente en</tspan><tspan x="2057" dy="30.2">het Rijk over “nota</tspan><tspan x="2057" dy="30.2">Bouwstenen” en budget.</tspan></text></g>
<g id="n-5-4-2b" class="nd b"><rect x="2051" y="3745" width="285" height="131"/><text class="t" x="2059" y="3770"><tspan class="id">5.4.2</tspan><tspan class="dt" x="2175">22-05-2003</tspan><tspan x="2059" dy="30">Overeenstemming “nota</tspan><tspan x="2059" dy="30.2">Bouwstenen” vastgesteld</tspan><tspan x="2059" dy="30.2">in de gemeenteraad.</tspan></text></g>
<g id="n-5-4-4" class="nd b"><rect x="2631" y="3553" width="284" height="126"/><text class="t" x="2639" y="3578"><tspan class="id">5.4.4</tspan><tspan class="dt" x="2753">??-09-2005</tspan><tspan x="2639" dy="30">Voorontwerp bestem-</tspan><tspan x="2639" dy="30.2">mingsplan “Station-</tspan><tspan x="2639" dy="30.2">skwartier”.</tspan></text></g>
<g id="n-6-1-1a" class="nd b"><rect x="2341" y="4064" width="285" height="222"/><text class="t" x="2347" y="4089"><tspan class="id">6.1.1</tspan><tspan class="dt" x="2461">01-11-2004</tspan><tspan x="2347" dy="31">Het eerste Bouw- en</tspan><tspan x="2347" dy="30.6">investeringsprogramma</tspan><tspan x="2347" dy="30.6">“Stallen en Parkeren” 2005</tspan><tspan x="2347" dy="30.6">- budget gereserveerd</tspan><tspan x="2347" dy="30.6">voor de bouw van de</tspan><tspan x="2347" dy="30.6">parkeergarage</tspan></text></g>
<g id="n-6-1-1b" class="nd b"><rect x="2631" y="4064" width="286" height="222"/><text class="t" x="2637" y="4089"><tspan class="id">6.1.1</tspan><tspan class="dt" x="2751">01-11-2005</tspan><tspan x="2637" dy="31">Het tweede Bouw- en</tspan><tspan x="2637" dy="30.6">investeringsprogramma</tspan><tspan x="2637" dy="30.6">“Stallen en Parkeren” 2006.</tspan><tspan x="2637" dy="30.6">- budget gereserveerd</tspan><tspan x="2637" dy="30.6">voor de bouw van de</tspan><tspan x="2637" dy="30.6">parkeergarage</tspan></text></g>
<g id="n-6-1-1c" class="nd b"><rect x="2922" y="3887" width="285" height="101"/><text class="t" x="2928" y="3913"><tspan class="id">6.1.1</tspan><tspan class="dt" x="3042">05-09-2006</tspan><tspan x="2928" dy="31">Vorming parkeerfonds</tspan></text></g>
<g id="n-25-08-2008" class="nd b"><rect x="3500" y="3713" width="285" height="161"/><text class="t" x="3506" y="3741"><tspan class="dt">25-08-2008</tspan><tspan x="3506" dy="31">Vrijstelling en bouwver-</tspan><tspan x="3506" dy="30.2">gunning verleend voor de</tspan><tspan x="3506" dy="30.2">bouw van de parkeerga-</tspan><tspan x="3506" dy="30.2">rage onder het Kruisplein.</tspan></text></g>
<g id="n-03-07-2008" class="nd b"><rect x="3500" y="3892" width="285" height="183"/><text class="t" x="3506" y="3918"><tspan class="dt">03-07-2008</tspan><tspan x="3506" dy="31">Er wordt een financiele</tspan><tspan x="3506" dy="30.2">consequentie gevraagd</tspan><tspan x="3506" dy="30.2">voor de realisering van de</tspan><tspan x="3506" dy="30.2">Kruispleingarage van</tspan><tspan x="3506" dy="30.2">€78,4 miljoen.</tspan></text></g>
<g id="n-7-1-2" class="nd b"><rect x="3500" y="4097" width="285" height="153"/><text class="t" x="3506" y="4122"><tspan class="id">7.1.2</tspan><tspan class="dt" x="3620">25-11-2008</tspan><tspan x="3506" dy="30">Vernieuwd voorberei-</tspan><tspan x="3506" dy="30.2">dingsbesluit voor gronden</tspan><tspan x="3506" dy="30.2">gelegen aan het</tspan><tspan x="3506" dy="30.2">Kruisplein.</tspan></text></g>
<g id="n-7-1-1" class="nd b"><rect x="3210" y="4169" width="286" height="153"/><text class="t" x="3216" y="4194"><tspan class="id">7.1.1</tspan><tspan class="dt" x="3330">20-09-2007</tspan><tspan x="3216" dy="30">Voorbereidingsbesluit</tspan><tspan x="3216" dy="30.2">voor gronden gelegen aan</tspan><tspan x="3216" dy="30.2">het Kruisplein met</tspan><tspan x="3216" dy="30.2">1 jaar geldigheidsduur.</tspan></text></g>
<g id="n-7-2-1" class="nd b"><rect x="3504" y="4358" width="281" height="130"/><text class="t" x="3510" y="4383"><tspan class="id">7.2.1</tspan><tspan class="dt" x="3624">01-07-2008</tspan><tspan x="3510" dy="30">Geen bezwaar van</tspan><tspan x="3510" dy="30.2">Gedupeerde Staten op</tspan><tspan x="3510" dy="30.2">voorbereidingsbesluit.</tspan></text></g>
<g id="n-7-2-2" class="nd b"><rect x="4080" y="4304" width="284" height="189"/><text class="t" x="4086" y="4329"><tspan class="id">7.2.2</tspan><tspan class="dt" x="4200">13-07-2010</tspan><tspan x="4086" dy="30">Inwerkingtreding Crisis-</tspan><tspan x="4086" dy="30.2">en Herstelwet voor</tspan><tspan x="4086" dy="30.2">Stationsgebied Rotterdam</tspan><tspan x="4086" dy="30.2">Centraal, inclusief</tspan><tspan x="4086" dy="30.2">Kruispleingarage.</tspan></text></g>
<g id="n-7-3-2" class="nd b"><rect x="3790" y="3537" width="285" height="100"/><text class="t" x="3796" y="3562"><tspan class="id">7.3.2</tspan><tspan class="dt" x="3910">11-11-2009</tspan><tspan x="3796" dy="30">planMER gebiedsontwik-</tspan><tspan x="3796" dy="30.2">keling RCD</tspan></text></g>
<g id="n-7-3-4" class="nd b"><rect x="4370" y="3537" width="285" height="100"/><text class="t" x="4376" y="3562"><tspan class="id">7.3.4</tspan><tspan class="dt" x="4490">17-02-2011</tspan><tspan x="4376" dy="30">Vaststelling Structuurvisie</tspan><tspan x="4376" dy="30.2">Rotterdam Central District</tspan></text></g>

<g id="n-05-05-2008" class="nd c"><rect x="3500" y="4678" width="285" height="98"/><text class="t" x="3506" y="4703"><tspan class="dt">05-05-2008</tspan><tspan x="3506" dy="31">Bezwaar burger op bouw</tspan><tspan x="3506" dy="30.2">parkeergarage.</tspan></text></g>
<g id="n-6-4-1" class="nd c"><rect x="3500" y="4797" width="285" height="190"/><text class="t" x="3506" y="4822"><tspan class="id">6.4.1</tspan><tspan class="dt" x="3620">15-05-2008</tspan><tspan x="3506" dy="30">Stadsdebat over het</tspan><tspan x="3506" dy="30.2">Stedenbouwkundig plan</tspan><tspan x="3506" dy="30.2">Stationskwartier.</tspan><tspan x="3506" dy="30.2">Verschillende experts zijn</tspan><tspan x="3506" dy="30.2">aanwezig.</tspan></text></g>
<g id="n-6-4-2" class="nd c"><rect x="3790" y="4598" width="286" height="700"/><text class="t" x="3798" y="4625"><tspan class="id">6.4.2</tspan><tspan class="dt" x="3912">25-06-2009</tspan><tspan x="3798" dy="30">Consultatieronde op het</tspan><tspan x="3798" dy="30.4">verkeersplan binnenstad</tspan><tspan x="3798" dy="30.4">“Citylounge bereikt”:</tspan><tspan x="3798" dy="30.4">- Kamer van Koophandel</tspan><tspan x="3798" dy="30.4">- Harry J. Bodifée</tspan><tspan x="3798" dy="30.4">- Rotterdams Milieucen-</tspan><tspan x="3798" dy="30.4">trum</tspan><tspan x="3798" dy="30.4">- BAM Vastgoed</tspan><tspan x="3798" dy="30.4">- Winkeliersvereningen</tspan><tspan x="3798" dy="30.4">- Ondernemers</tspan><tspan x="3798" dy="30.4">- Downtownberaad</tspan><tspan x="3798" dy="30.4">- B.O.O.G.</tspan><tspan x="3798" dy="30.4">- Rotterdams Marathon</tspan><tspan x="3798" dy="30.4">- RET</tspan><tspan x="3798" dy="30.4">- Stadsregio Rotterdam</tspan><tspan x="3798" dy="30.4">Uitvoerig gereageerd op</tspan><tspan x="3798" dy="30.4">de Kruispleingarage.</tspan><tspan x="3798" dy="30.4">Resulteert niet in</tspan><tspan x="3798" dy="30.4">inhoudelijke wijzingen</tspan><tspan x="3798" dy="30.4">alleen tekstuele wijzingen.</tspan></text></g>
</svg>
